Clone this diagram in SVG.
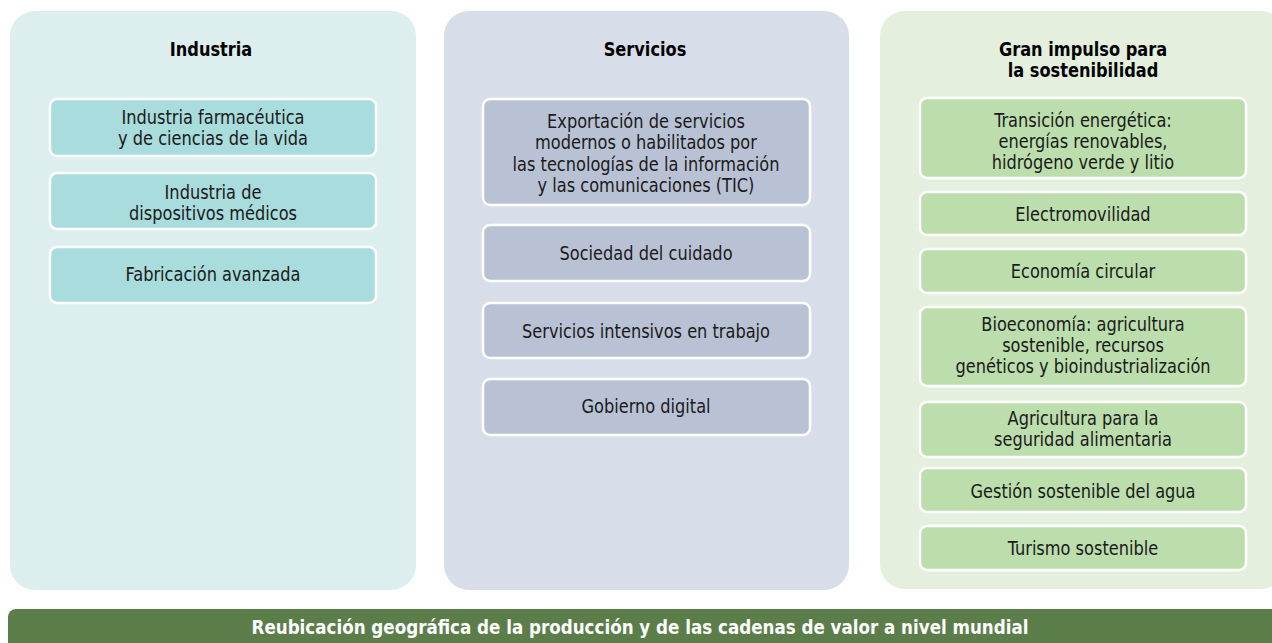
<svg xmlns="http://www.w3.org/2000/svg" width="1272" height="643" viewBox="0 0 1272 643">
<style>
.t{font-family:"DejaVu Sans Condensed","Liberation Sans Narrow","Liberation Sans",sans-serif;font-size:20px;fill:#1a1a1a;text-anchor:middle}
.h{font-family:"DejaVu Sans Condensed","Liberation Sans Narrow","Liberation Sans",sans-serif;font-size:20px;font-weight:bold;fill:#000;text-anchor:middle}
.f{font-family:"DejaVu Sans Condensed","Liberation Sans Narrow","Liberation Sans",sans-serif;font-size:20px;font-weight:bold;fill:#fff;text-anchor:middle}
.b{stroke:#fff;stroke-width:2.5}
.b1{fill:#a9dcdc}
.b2{fill:#b9c2d4}
.b3{fill:#bcdeac}
</style>
<rect width="1272" height="643" fill="#fff"/>
<g id="panel-industria">
<rect x="10" y="11" width="406" height="579" rx="25" fill="#dcefee"/>
<g transform="translate(211 0) scale(0.9 1)"><text class="h" x="0" y="56">Industria</text></g>
</g>
<g id="panel-servicios">
<rect x="444" y="11" width="405" height="579" rx="25" fill="#d8dee9"/>
<g transform="translate(645 0) scale(0.9 1)"><text class="h" x="0" y="56">Servicios</text></g>
</g>
<g id="panel-sostenibilidad">
<rect x="880" y="11" width="406" height="578" rx="25" fill="#e4f0dd"/>
<g transform="translate(1083 0) scale(0.9 1)"><text class="h" x="0" y="56">Gran impulso para</text>
<text class="h" x="0" y="77">la sostenibilidad</text></g>
</g>
<g id="i1"><rect class="b b1" x="50" y="99" width="326" height="57" rx="7"/>
<g transform="translate(213 0) scale(0.9 1)"><text class="t" x="0" y="124">Industria farmacéutica</text><text class="t" x="0" y="145">y de ciencias de la vida</text></g></g>
<g id="i2"><rect class="b b1" x="50" y="173" width="326" height="56" rx="7"/>
<g transform="translate(213 0) scale(0.9 1)"><text class="t" x="0" y="199">Industria de</text><text class="t" x="0" y="220">dispositivos médicos</text></g></g>
<g id="i3"><rect class="b b1" x="50" y="247" width="326" height="56" rx="7"/>
<g transform="translate(213 0) scale(0.9 1)"><text class="t" x="0" y="281">Fabricación avanzada</text></g></g>
<g id="s1"><rect class="b b2" x="483" y="99" width="327" height="106" rx="7"/>
<g transform="translate(646 0) scale(0.9 1)"><text class="t" x="0" y="128">Exportación de servicios</text><text class="t" x="0" y="149.5">modernos o habilitados por</text><text class="t" x="0" y="171">las tecnologías de la información</text><text class="t" x="0" y="192.5">y las comunicaciones (TIC)</text></g></g>
<g id="s2"><rect class="b b2" x="483" y="225" width="327" height="56" rx="7"/>
<g transform="translate(646 0) scale(0.9 1)"><text class="t" x="0" y="260">Sociedad del cuidado</text></g></g>
<g id="s3"><rect class="b b2" x="483" y="303" width="327" height="55" rx="7"/>
<g transform="translate(646 0) scale(0.9 1)"><text class="t" x="0" y="338">Servicios intensivos en trabajo</text></g></g>
<g id="s4"><rect class="b b2" x="483" y="379" width="327" height="56" rx="7"/>
<g transform="translate(646 0) scale(0.9 1)"><text class="t" x="0" y="413">Gobierno digital</text></g></g>
<g id="g1"><rect class="b b3" x="920" y="98" width="326" height="80" rx="7"/>
<g transform="translate(1083 0) scale(0.9 1)"><text class="t" x="0" y="127">Transición energética:</text><text class="t" x="0" y="148">energías renovables,</text><text class="t" x="0" y="169">hidrógeno verde y litio</text></g></g>
<g id="g2"><rect class="b b3" x="920" y="192" width="326" height="43" rx="7"/>
<g transform="translate(1083 0) scale(0.9 1)"><text class="t" x="0" y="221">Electromovilidad</text></g></g>
<g id="g3"><rect class="b b3" x="920" y="249" width="326" height="44" rx="7"/>
<g transform="translate(1083 0) scale(0.9 1)"><text class="t" x="0" y="278">Economía circular</text></g></g>
<g id="g4"><rect class="b b3" x="920" y="307" width="326" height="79" rx="7"/>
<g transform="translate(1083 0) scale(0.9 1)"><text class="t" x="0" y="331">Bioeconomía: agricultura</text><text class="t" x="0" y="352">sostenible, recursos</text><text class="t" x="0" y="373">genéticos y bioindustrialización</text></g></g>
<g id="g5"><rect class="b b3" x="920" y="402" width="326" height="55" rx="7"/>
<g transform="translate(1083 0) scale(0.9 1)"><text class="t" x="0" y="425">Agricultura para la</text><text class="t" x="0" y="446">seguridad alimentaria</text></g></g>
<g id="g6"><rect class="b b3" x="920" y="468" width="326" height="44" rx="7"/>
<g transform="translate(1083 0) scale(0.9 1)"><text class="t" x="0" y="498">Gestión sostenible del agua</text></g></g>
<g id="g7"><rect class="b b3" x="920" y="526" width="326" height="44" rx="7"/>
<g transform="translate(1083 0) scale(0.9 1)"><text class="t" x="0" y="555">Turismo sostenible</text></g></g>
<g id="bar">
<rect x="8" y="609" width="1290" height="50" rx="8" fill="#5b7d4a"/>
<g transform="translate(640 0) scale(0.93 1)"><text class="f" x="0" y="634">Reubicación geográfica de la producción y de las cadenas de valor a nivel mundial</text></g>
</g>
<g id="connectors"></g>
</svg>
